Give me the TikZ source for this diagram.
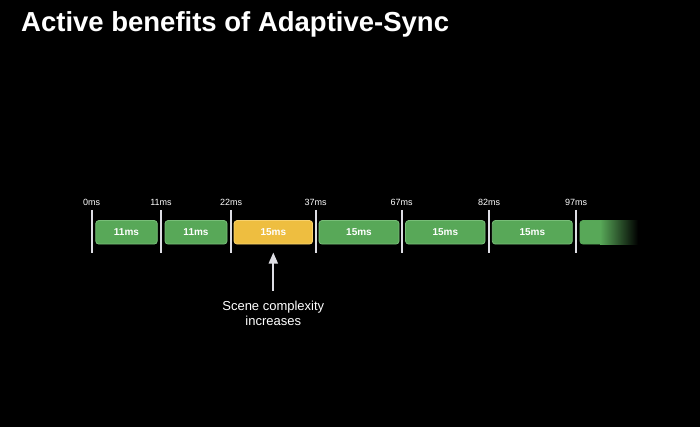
\documentclass[tikz,border=0pt]{standalone}
\usepackage{fontspec}
\setmainfont{Liberation Sans}
\usetikzlibrary{arrows.meta}
\definecolor{boxgreen}{RGB}{88,168,88}
\definecolor{boxgreenedge}{RGB}{120,190,120}
\definecolor{boxyellow}{RGB}{238,190,64}
\definecolor{boxyellowedge}{RGB}{248,210,110}
\definecolor{tickgray}{RGB}{222,222,228}
\begin{document}
\begin{tikzpicture}[x=1pt,y=-1pt,
  frame/.style={rounded corners=3pt, line width=0.8pt, minimum height=23.5pt, inner sep=0pt,
     text=white, font=\fontsize{10}{12}\selectfont\bfseries},
  greenbox/.style={frame, fill=boxgreen, draw=boxgreenedge},
  yellowbox/.style={frame, fill=boxyellow, draw=boxyellowedge},
  tick/.style={draw=tickgray, line width=1.8pt},
  ticklabel/.style={text=white, font=\fontsize{9}{10}\selectfont, inner sep=0pt, anchor=base}]
\useasboundingbox (0,0) rectangle (700,427);
\fill[black] (0,0) rectangle (700,427);
\node[anchor=base west, text=white, inner sep=0pt, font=\fontsize{27.5}{30}\selectfont\bfseries] (title) at (21,31.5) {Active benefits of Adaptive-Sync};

% ticks
\foreach \n/\x/\t in {a/91.7/0ms, b/161/11ms, c/231/22ms, d/315.7/37ms, e/401.7/67ms, f/489/82ms, g/576/97ms}{
  \coordinate (top\n) at (\x,210);
  \coordinate (bot\n) at (\x,253.5);
  \draw[tick] (top\n) -- (bot\n);
  \node[ticklabel] (lab\n) at (\x,205.5) {\t};
}

% boxes
\node[greenbox, minimum width=61.5pt] (b1) at (126.5,232.3) {11ms};
\node[greenbox, minimum width=62pt] (b2) at (196,232.3) {11ms};
\node[yellowbox, minimum width=78.5pt] (b3) at (273.3,232.3) {15ms};
\node[greenbox, minimum width=80pt] (b4) at (359,232.3) {15ms};
\node[greenbox, minimum width=79.5pt] (b5) at (445.3,232.3) {15ms};
\node[greenbox, minimum width=80pt] (b6) at (532.3,232.3) {15ms};
\node[greenbox, draw=boxgreen, minimum width=60pt] (b7) at (610,232.3) {};
\shade[left color=boxgreen, right color=black] (600,0 |- b7.north) rectangle (638,0 |- b7.south);
\fill[black] (638,0 |- b7.north) rectangle (645,0 |- b7.south);

% arrow and caption
\node[text=white, align=center, font=\fontsize{13}{15}\selectfont, inner sep=0pt] (cap) at (273.3,313.5) {Scene complexity\\increases};
\coordinate (arrtip) at (273.3,252.5);
\draw[draw=tickgray, line width=1.8pt, -{Triangle[width=9pt,length=11pt]}] (273.3,290.5) -- (arrtip);
\end{tikzpicture}
\end{document}
